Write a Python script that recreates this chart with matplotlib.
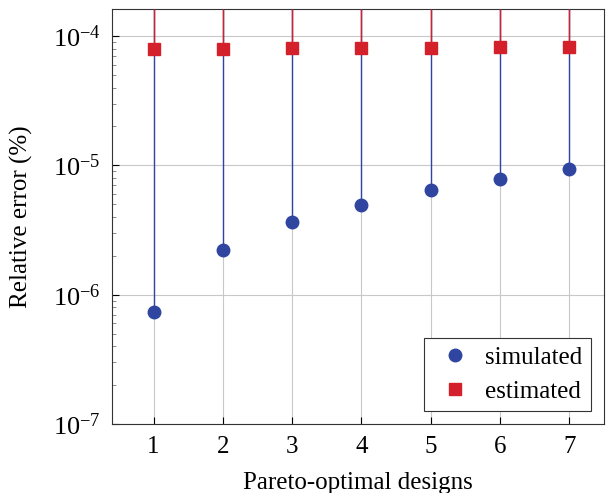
import matplotlib
matplotlib.use("Agg")
import matplotlib.pyplot as plt
import numpy as np

designs = [1, 2, 3, 4, 5, 6, 7]
simulated = [7.4e-7, 2.23e-6, 3.65e-6, 4.97e-6, 6.5e-6, 7.9e-6, 9.3e-6]
estimated = [7.95e-5, 8.0e-5, 8.05e-5, 8.1e-5, 8.15e-5, 8.2e-5, 8.3e-5]

blue = "#2f45a0"
red = "#d4202a"

plt.rcParams["font.family"] = ["Liberation Serif", "DejaVu Serif"]
plt.rcParams["mathtext.fontset"] = "cm"
plt.rcParams["font.size"] = 18

fig = plt.figure(figsize=(6.07, 4.93), dpi=100)
ax = fig.add_axes([0.1845, 0.14, 0.8105, 0.8417])

ymin, ymax = 1e-7, 1.62e-4
ax.set_yscale("log")
ax.set_ylim(ymin, ymax)
ax.set_xlim(0.4, 7.5)

# error bars go up to the top of the plot
ax.vlines(designs, simulated, ymax, color=blue, lw=1.0, zorder=3)
ax.vlines(designs, estimated, ymax, color=red, lw=1.0, zorder=4)
ax.plot(designs, simulated, "o", color=blue, ms=9, ls="none", zorder=5, label="simulated")
ax.plot(designs, estimated, "s", color=red, ms=9, ls="none", zorder=5, label="estimated")

ax.set_xticks(designs)
ax.set_yticks([1e-7, 1e-6, 1e-5, 1e-4])
ax.grid(True, which="major", color="#c8c8c8", lw=0.8, zorder=0)
ax.set_axisbelow(True)
ax.tick_params(which="both", direction="in", top=False, right=False)
ax.tick_params(which="major", length=5)
ax.tick_params(which="minor", length=3, color="#777777")
ax.tick_params(axis="x", labelsize=18, pad=9)
ax.tick_params(axis="y", labelsize=19, pad=8)

ax.set_xlabel("Pareto-optimal designs", fontsize=18, labelpad=10)
ax.set_ylabel("Relative error (%)", fontsize=18, labelpad=14)

leg = ax.legend(loc="lower right", fancybox=False, edgecolor="#333333",
                framealpha=1, fontsize=18, handlelength=1.8,
                borderaxespad=0.5, handletextpad=0.3, borderpad=0.35,
                labelspacing=0.45)
leg.get_frame().set_linewidth(0.8)

for s in ax.spines.values():
    s.set_color("#333333")

fig.savefig("out.png", dpi=100)
